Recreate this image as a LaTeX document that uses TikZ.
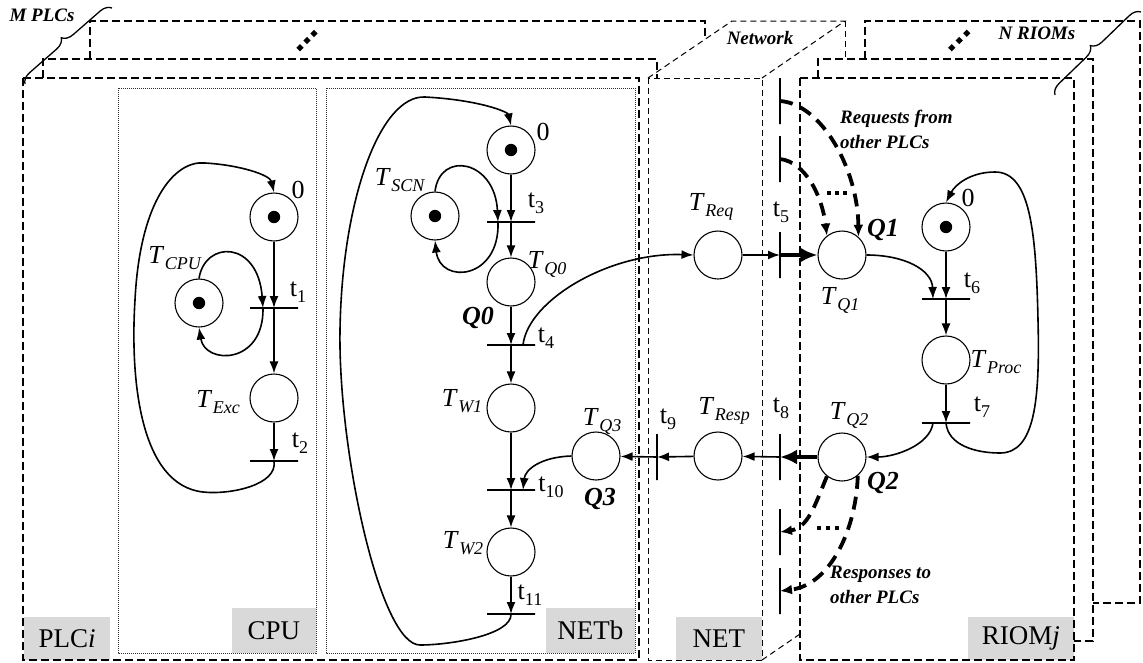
\documentclass[tikz,border=0pt]{standalone}
\usepackage{fontspec}
\setmainfont{Liberation Serif}
\usetikzlibrary{arrows.meta,decorations.pathreplacing}
\newcommand{\PNT}[1]{\textit{T}\kern0.5pt\raisebox{-6pt}{\fontsize{18}{18}\selectfont\textit{#1}}}
\newcommand{\PNt}[1]{t\raisebox{-6pt}{\fontsize{18}{18}\selectfont #1}}
\begin{document}
\begin{tikzpicture}[x=1pt,y=-1pt,
 place/.style={circle,draw,line width=1.1pt,minimum size=48pt,inner sep=0pt},
 hbar/.style={rectangle,draw,line width=1.6pt,minimum width=48pt,minimum height=0pt,inner sep=0pt},
 vbar/.style={rectangle,draw,line width=1.6pt,minimum width=0pt,minimum height=46pt,inner sep=0pt},
 arc/.style={line width=1.6pt,-{Latex[length=12pt,width=9pt]}},
 fatarc/.style={line width=4.2pt,-{Latex[length=17pt,width=15pt]}},
 dasharc/.style={line width=3.8pt,dash pattern=on 13pt off 8pt,-{Latex[length=12pt,width=10pt]}},
 lbl/.style={inner sep=0pt,font=\fontsize{26}{28}\selectfont},
 qlbl/.style={inner sep=0pt,font=\fontsize{26}{28}\selectfont\bfseries\itshape},
 note/.style={inner sep=0pt,font=\fontsize{19}{25}\selectfont\bfseries\itshape,align=left},
 tag/.style={fill=gray!30,inner sep=0pt,font=\fontsize{27}{30}\selectfont},
 outerbox/.style={line width=1.2pt,dash pattern=on 8pt off 4pt},
 netbox/.style={line width=1pt,dash pattern=on 6pt off 4pt},
 innerbox/.style={line width=0.8pt,dash pattern=on 1pt off 1pt,black!80},
 brc/.style={decorate,decoration={brace,amplitude=11pt},line width=1.3pt}
]
\useasboundingbox (0,0) rectangle (1143,662);

% label tags
\node[tag,minimum width=86pt,minimum height=43pt,anchor=south west] (tagplc) at (24,660) {PLC\textit{i}};
\node[tag,minimum width=84pt,minimum height=45pt,anchor=south east] (tagcpu) at (316,653) {CPU};
\node[tag,minimum width=89pt,minimum height=45pt,anchor=south east] (tagnetb) at (635,653) {NETb};
\node[tag,minimum width=86pt,minimum height=43pt,anchor=south east] (tagnet) at (762,660) {NET};
\node[tag,minimum width=106pt,minimum height=43pt,anchor=south east] (tagriom) at (1074,660) {RIOM\textit{j}};

% PLC boxes
\draw[outerbox] (90,59) -- (90,21) -- (705,21) -- (705,39);
\draw[outerbox] (43,78) -- (43,59) -- (657,59) -- (657,78);
\draw[outerbox] (23,78) rectangle (639,660);
% network box
\draw[netbox] (648,78) rectangle (762,660);
\draw[netbox] (648,78) -- (732,21) -- (845,21) -- (762,78);
\draw[netbox] (845,21) -- (845,59);
\draw[netbox] (762,660) -- (800,634);
% RIOM boxes
\draw[outerbox] (865,59) -- (865,21) -- (1140,21) -- (1140,603) -- (1093,603);
\draw[outerbox] (818,78) -- (818,59) -- (1093,59) -- (1093,641) -- (1074,641);
\draw[outerbox] (800,78) rectangle (1074,660);
% inner boxes
\draw[innerbox] (118,88) rectangle (316,653);
\draw[innerbox] (326,88) rectangle (635,653);

% diagonal dots
\foreach \x/\y in {300/47.7,307/40.5,314/33.5,951.7/47.7,959.3/40.5,966.7/33.3}
  \fill (\x,\y) +(0,-3.6) -- +(3.6,0) -- +(0,3.6) -- +(-3.6,0) -- cycle;

% titles and braces
\node[note] (mplc) at (42,15) {M PLCs};
\node[note] (netw) at (760,38) {Network};
\node[note] (nriom) at (1037,33) {N RIOMs};
\draw[brc] (25,84) -- (112,8);
\draw[brc] (1055,95) -- (1141,12);

% places
\node[place] (pc0) at (274,217) {};
\node[place] (pcpu) at (199,303) {};
\node[place] (pexc) at (274,398) {};
\node[place] (pn0) at (511,150) {};
\node[place] (pscn) at (435,216) {};
\node[place] (pq0) at (511,282) {};
\node[place] (pw1) at (511,408) {};
\node[place] (pq3) at (596,456) {};
\node[place] (pw2) at (511,552) {};
\node[place] (preq) at (718,255) {};
\node[place] (presp) at (718,456) {};
\node[place] (pq1) at (842,255) {};
\node[place] (pr0) at (946,227) {};
\node[place] (pproc) at (946,360) {};
\node[place] (pq2) at (842,457) {};
\foreach \p in {pc0,pcpu,pn0,pscn,pr0} \fill (\p) circle (6.2pt);

% transitions
\node[hbar] (t1) at (274,308) {};
\node[hbar] (t2) at (274,461) {};
\node[hbar] (t3) at (511,222) {};
\node[hbar] (t4) at (511,345) {};
\node[hbar] (t10) at (511,490) {};
\node[hbar] (t11) at (511,614) {};
\node[hbar] (t6) at (946,299) {};
\node[hbar] (t7) at (946,423) {};
\node[vbar] (t5) at (780,255) {};
\node[vbar] (rq1) at (780,101) {};
\node[vbar] (rq2) at (780,159) {};
\node[vbar] (t8) at (780,457) {};
\node[vbar] (t9) at (657,457) {};
\node[vbar] (rs1) at (780,532) {};
\node[vbar] (rs2) at (780,591) {};

% straight arcs
\draw[arc] (pc0) -- (t1.center);
\draw[arc] (t1.center) -- (pexc);
\draw[arc] (pexc) -- (t2.center);
\draw[arc] (pn0) -- (t3.center);
\draw[arc] (t3.center) -- (pq0);
\draw[arc] (pq0) -- (t4.center);
\draw[arc] (t4.center) -- (pw1);
\draw[arc] (pw1) -- (t10.center);
\draw[arc] (t10.center) -- (pw2);
\draw[arc] (pw2) -- (t11.center);
\draw[arc] (pr0) -- (t6.center);
\draw[arc] (t6.center) -- (pproc);
\draw[arc] (pproc) -- (t7.center);
\draw[arc] (preq) -- (t5.center);
\draw[fatarc] (t5.center) -- (pq1);
\draw[fatarc] (pq2) -- (t8.center);
\draw[arc] (t8.center) -- (presp);
\draw[arc] (presp) -- (t9.center);
\draw[arc] (t9.center) -- (pq3);

% curved arcs CPU
\draw[arc] (pcpu.north) .. controls (205,240) and (258,240) .. ([xshift=-11pt]t1.center);
\draw[arc] ([xshift=-11pt]t1.center) .. controls (264,365) and (205,365) .. (pcpu.south);
\draw[arc] (t2.center) .. controls (278,485) and (230,495) .. (203,492)
  .. controls (140,485) and (130,380) .. (135,300)
  .. controls (140,200) and (175,160) .. (205,163)
  .. controls (240,165) and (270,175) .. (pc0.north);
% NETb
\draw[arc] (pscn.north) .. controls (440,150) and (495,160) .. ([xshift=-13pt]t3.center);
\draw[arc] ([xshift=-13pt]t3.center) .. controls (500,280) and (440,285) .. (pscn.south);
\draw[arc] (t11.center) .. controls (512,635) and (450,645) .. (420,645)
  .. controls (380,645) and (338,450) .. (340,330)
  .. controls (342,200) and (380,95) .. (425,97)
  .. controls (480,100) and (508,112) .. (pn0.north);
\draw[arc] ([xshift=12pt]t4.center) .. controls (528,300) and (610,252) .. (preq.west);
\draw[arc] (pq3.west) .. controls (540,457) and (525,470) .. ([xshift=12pt]t10.center);
% RIOM
\draw[arc] (pq1.east) .. controls (905,255) and (932,270) .. ([xshift=-13pt]t6.center);
\draw[arc] ([xshift=-13pt]t7.center) .. controls (930,445) and (895,457) .. (pq2.east);
\draw[arc] (t7.center) .. controls (948,445) and (975,453) .. (1000,453)
  .. controls (1035,453) and (1040,400) .. (1038,320)
  .. controls (1036,230) and (1030,172) .. (995,172)
  .. controls (970,172) and (955,185) .. (pr0.north);
% dashed request / response arcs
\draw[dasharc] (rq1.center) .. controls (822,104) and (858,170) .. (pq1.48);
\draw[dasharc] (rq2.center) .. controls (805,162) and (822,195) .. (pq1.128);
\draw[dasharc] (pq2.232) .. controls (815,505) and (808,528) .. (rs1.center);
\draw[dasharc] (pq2.310) .. controls (856,530) and (830,585) .. (rs2.center);
\foreach \x in {829,837,845} \fill (\x-1.8,191.2) rectangle +(3.6,3.6);
\foreach \x in {819,828,837} \fill (\x-1.8,526.2) rectangle +(3.6,3.6);

% labels
\node[lbl] (l0a) at (298,190) {0};
\node[lbl] (lcpu) at (175,258) {\PNT{CPU}};
\node[lbl] (lt1) at (298,292) {\PNt{1}};
\node[lbl] (lexc) at (218,402) {\PNT{Exc}};
\node[lbl] (lt2) at (300,443) {\PNt{2}};
\node[lbl] (l0b) at (543,132) {0};
\node[lbl] (lscn) at (400,180) {\PNT{SCN}};
\node[lbl] (lt3) at (536,203) {\PNt{3}};
\node[lbl] (lq0) at (547,264) {\PNT{Q0}};
\node[qlbl] (qq0) at (478,318) {Q0};
\node[lbl] (lt4) at (546,338) {\PNt{4}};
\node[lbl] (lw1) at (462,401) {\PNT{W1}};
\node[lbl] (lt10) at (551,487) {\PNt{10}};
\node[lbl] (lq3) at (602,421) {\PNT{Q3}};
\node[qlbl] (qq3) at (600,499) {Q3};
\node[lbl] (lw2) at (463,543) {\PNT{W2}};
\node[lbl] (lt11) at (530,595) {\PNt{11}};
\node[lbl] (lreq) at (711,207) {\PNT{Req}};
\node[lbl] (lt5) at (781,212) {\PNt{5}};
\node[lbl] (lq1) at (840,300) {\PNT{Q1}};
\node[qlbl] (qq1) at (883,230) {Q1};
\node[lbl] (l0c) at (968,198) {0};
\node[lbl] (lt6) at (972,283) {\PNt{6}};
\node[lbl] (lproc) at (996,362) {\PNT{Proc}};
\node[lbl] (lt7) at (982,407) {\PNt{7}};
\node[lbl] (lq2) at (849,415) {\PNT{Q2}};
\node[qlbl] (qq2) at (883,483) {Q2};
\node[lbl] (lt8) at (781,408) {\PNt{8}};
\node[lbl] (lresp) at (724,411) {\PNT{Resp}};
\node[lbl] (lt9) at (668,419) {\PNt{9}};
\node[note,anchor=west] (nreq) at (840,129) {Requests from\\other PLCs};
\node[note,anchor=west] (nresp) at (830,585) {Responses to\\other PLCs};
\end{tikzpicture}
\end{document}
